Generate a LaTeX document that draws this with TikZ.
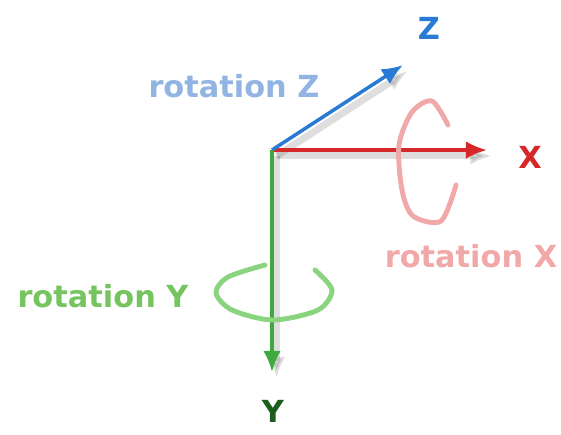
\documentclass[tikz,border=0pt]{standalone}
\usepackage{fontspec}
\setmainfont{DejaVu Sans}
\usepackage{tikz}
\usetikzlibrary{arrows.meta,positioning,calc}
\definecolor{axisred}{RGB}{214,40,40}
\definecolor{axisblue}{RGB}{40,122,212}
\definecolor{axisgreen}{RGB}{62,170,62}
\definecolor{labelgreen}{RGB}{28,92,28}
\definecolor{softred}{RGB}{240,168,168}
\definecolor{softblue}{RGB}{145,180,226}
\definecolor{softgreen}{RGB}{138,212,128}
\definecolor{textgreen}{RGB}{118,196,96}

\begin{document}
\begin{tikzpicture}[x=0.02cm,y=-0.02cm,
axis/.style={-{Latex[length=12pt,width=10pt]},line width=2pt},
shade/.style={-{Latex[length=12pt,width=10pt]},line width=4pt,draw=black,opacity=0.13,
  transform canvas={xshift=2.6pt,yshift=-3.4pt}},
loop/.style={line width=2.8pt,line cap=round,smooth},
lbl/.style={font=\bfseries\fontsize{17.3}{20}\selectfont,inner sep=0pt}]
\useasboundingbox (0,0) rectangle (561,434);
\coordinate (o) at (272,150);
\coordinate (xtip) at (487,150);
\coordinate (ztip) at (403,65);
\coordinate (ytip) at (272,372);
% shadows
\draw[shade] (o) -- (xtip);
\draw[shade] (o) -- (ztip);
\draw[shade] (o) -- (ytip);
% axes
\draw[axis,draw=axisred] (o) -- (xtip);
\draw[axis,draw=axisblue] (o) -- (ztip);
\draw[axis,draw=axisgreen] (o) -- (ytip);
\node[lbl,text=axisred] (xl) at (530,157) {X};
\node[lbl,text=axisblue] (zl) at (429,28) {Z};
\node[lbl,text=labelgreen] (yl) at (273,411) {Y};
% rotations
\draw[loop,draw=softred] plot coordinates {(448,125) (432,101) (412,112) (399,145) (402,190) (413,216) (441,221) (456,185)};
\draw[loop,draw=softgreen] plot coordinates {(265,265) (228,277) (216,293) (232,310) (273,320) (318,310) (332,290) (315,270)};
\node[lbl,text=softblue] (zrot) at (234,86) {rotation Z};
\node[lbl,text=softred] (xrot) at (471,256) {rotation X};
\node[lbl,text=textgreen] (yrot) at (103,296) {rotation Y};
\end{tikzpicture}
\end{document}
